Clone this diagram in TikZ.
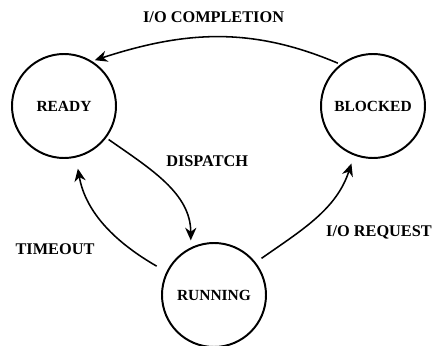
\documentclass[tikz,border=0pt]{standalone}
\usepackage{fontspec}
\setmainfont{Liberation Serif}
\usetikzlibrary{arrows.meta}
\begin{document}
\begin{tikzpicture}[
		state/.style={draw, circle, line width=1.4pt, minimum size=2.6cm, inner sep=0pt, font=\fontsize{11}{0}\selectfont\bfseries},
		trans/.style={-{Stealth[length=9pt,width=8pt]}, line width=1.1pt},
		lbl/.style={font=\fontsize{11.6}{0}\selectfont\bfseries}]
		\useasboundingbox (0,0) rectangle (10.85,8.625);

		\node[state] (ready) at (1.6,5.975) {READY};
		\node[state] (blocked) at (9.325,5.975) {BLOCKED};
		\node[state] (running) at (5.35,1.25) {RUNNING};

		\node[lbl] (completion) at (5.34,8.19) {I/O COMPLETION};
		\node[lbl] (dispatch) at (5.18,4.6) {DISPATCH};
		\node[lbl] (timeout) at (1.375,2.4) {TIMEOUT};
		\node[lbl] (request) at (9.475,2.81) {I/O REQUEST};

		\draw[trans, shorten <=2pt, shorten >=2pt] (blocked.128) to[out=157, in=18] (ready.58);
		\draw[trans, shorten <=2pt, shorten >=5pt] (ready.-37) to[out=-35, in=90] (running.116);
		\draw[trans, shorten <=8pt, shorten >=8pt] (running.154) to[out=150, in=-80] (ready.-77);
		\draw[trans, shorten <=5pt, shorten >=6pt] (running.38) to[out=35, in=-108] (blocked.-111);
	\end{tikzpicture}
\end{document}
